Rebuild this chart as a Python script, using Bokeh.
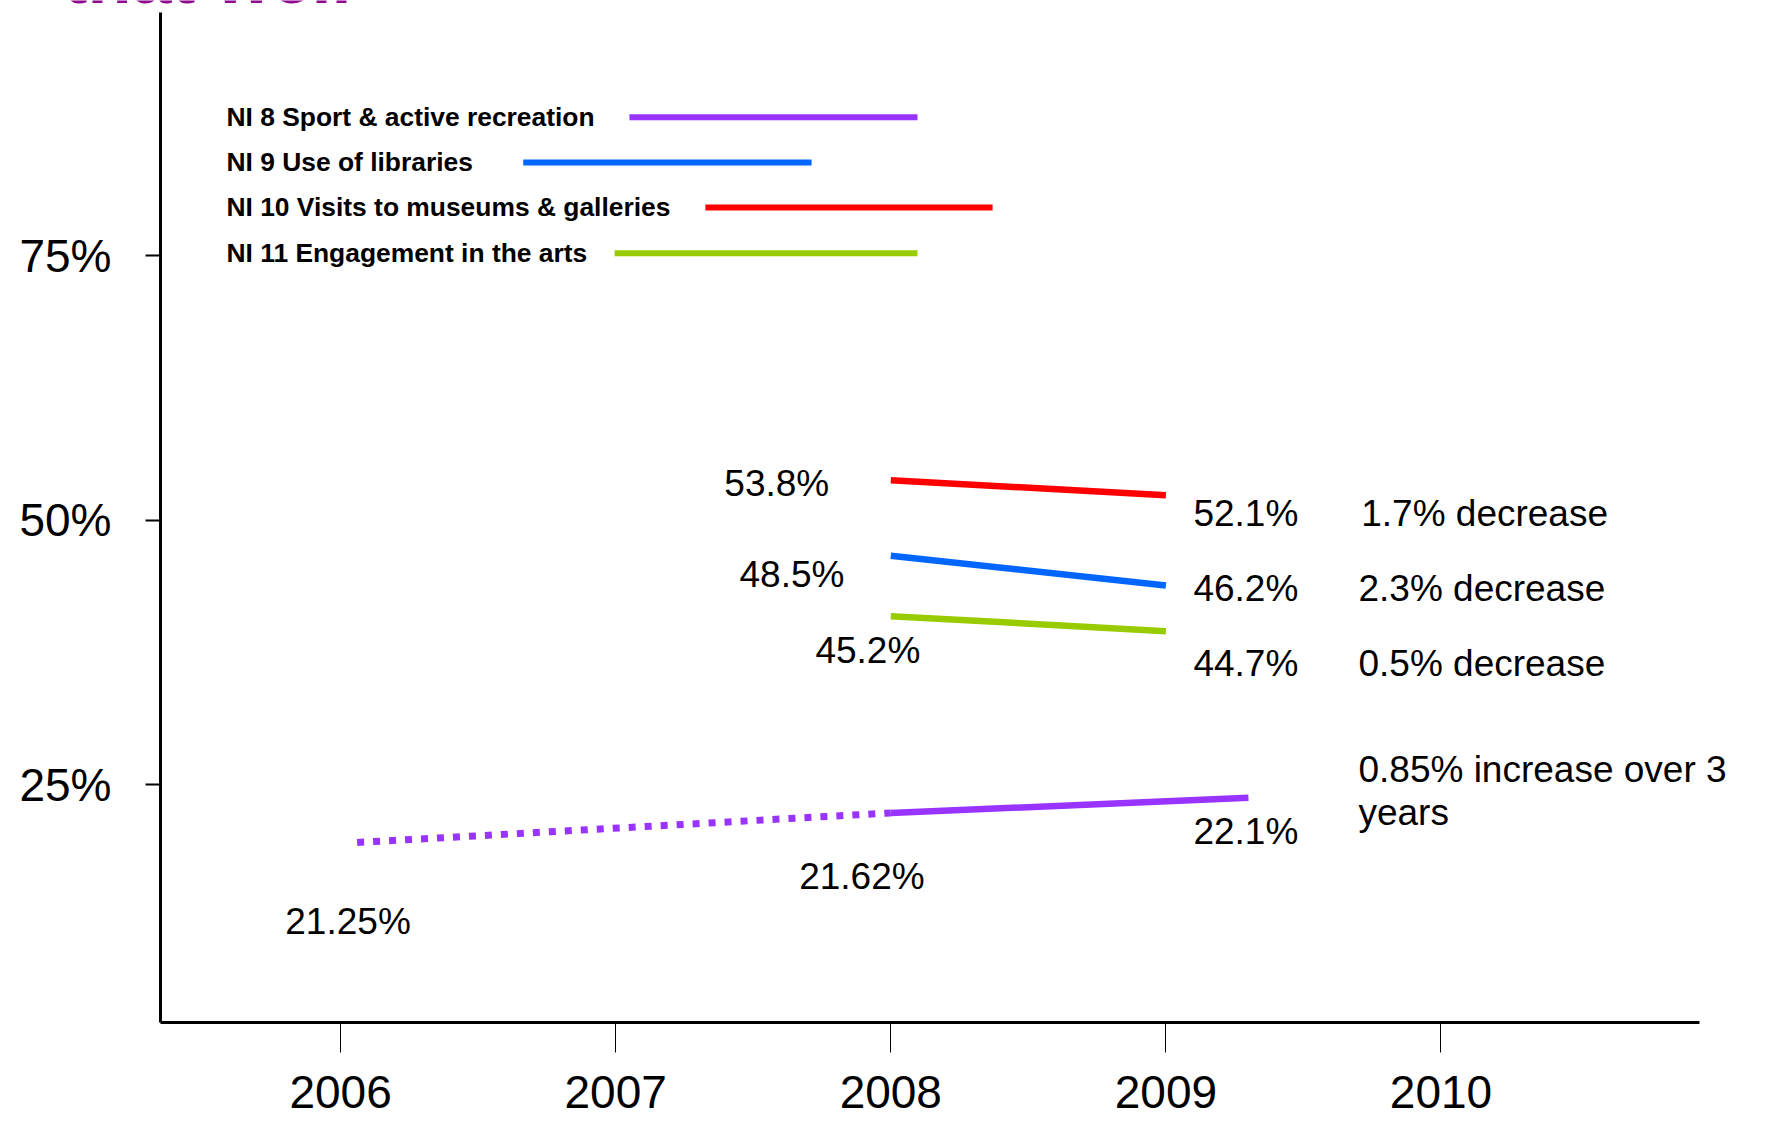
from bokeh.plotting import figure
from bokeh.models import Range1d, FixedTicker, ColumnDataSource, LabelSet
from bokeh.core.properties import value
from bokeh.embed import file_html
from bokeh.resources import INLINE

FONT = "Liberation Sans"

# ---- data (plotted positions) ----
year_ticks = [2006, 2007, 2008, 2009, 2010]
pct_ticks = [25, 50, 75]

main_years = [2008, 2009]
museums = [53.79, 52.37]      # NI 10
libraries = [46.64, 43.84]    # NI 9
arts = [40.94, 39.52]         # NI 11

sport_est_years = [2006.06, 2008]
sport_est = [19.55, 22.34]     # NI 8, dotted (estimated)
sport_years = [2008, 2009.30]
sport = [22.34, 23.77]         # NI 8, solid

series_names = ["NI 8 Sport & active recreation", "NI 9 Use of libraries",
                "NI 10 Visits to museums & galleries", "NI 11 Engagement in the arts"]
series_colors = ["#9933FF", "#0066FF", "#FF0000", "#99CC00"]

value_labels = ["53.8%", "48.5%", "45.2%", "52.1%", "46.2%", "44.7%",
                "22.1%", "21.62%", "21.25%"]
change_labels = ["1.7% decrease", "2.3% decrease", "0.5% decrease",
                 "0.85% increase over 3", "years"]
title_text = ["that well"]

# ---- axis extents and layout of legend / annotations (data units) ----
x_axis_span = (2005.3453, 2010.9397)
y_axis_span = (2.533, 97.996)

legend_text_x = [2005.585] * 4
legend_y = [88.1, 83.82, 79.57, 75.25]
legend_x0 = [2007.05, 2006.664, 2007.326, 2006.996]
legend_x1 = [2008.097, 2007.712, 2008.370, 2008.097]

value_label_x = [2007.395, 2007.45, 2007.726, 2009.10, 2009.10, 2009.10,
                 2009.10, 2007.667, 2005.799]
value_label_y = [53.48, 44.88, 37.69, 50.64, 43.55, 36.44, 20.60, 16.35, 12.10]
change_label_x = [2009.71, 2009.70, 2009.70, 2009.70, 2009.70]
change_label_y = [50.64, 43.55, 36.44, 26.40, 22.35]
title_x = [2004.993]
title_y = [98.94]

p = figure(width=1751, height=1124,
           x_range=Range1d(2004.7637, 2011.1287),
           y_range=Range1d(-7.107, 99.13),
           output_backend="svg", toolbar_location=None,
           min_border_left=0, min_border_right=0,
           min_border_top=0, min_border_bottom=0)
p.grid.visible = False
p.outline_line_color = None
p.background_fill_color = "white"
p.border_fill_color = "white"

# axes, drawn at the corner of the plotted area
xa = p.xaxis[0]
xa.fixed_location = y_axis_span[0]
xa.bounds = x_axis_span
xa.ticker = FixedTicker(ticks=year_ticks)
xa.major_label_overrides = {y: str(y) for y in year_ticks}
xa.axis_line_width = 3
xa.axis_line_color = "black"
xa.major_tick_out = 30
xa.major_tick_in = 0
xa.major_tick_line_width = 1
xa.minor_tick_line_color = None
xa.major_label_text_font = FONT
xa.major_label_text_font_size = "46px"
xa.major_label_text_color = "black"
xa.major_label_standoff = 23

ya = p.yaxis[0]
ya.fixed_location = x_axis_span[0]
ya.bounds = y_axis_span
ya.ticker = FixedTicker(ticks=pct_ticks)
ya.major_label_overrides = {v: f"{v}%" for v in pct_ticks}
ya.axis_line_width = 3
ya.axis_line_color = "black"
ya.major_tick_out = 15
ya.major_tick_in = 0
ya.major_tick_line_width = 2
ya.minor_tick_line_color = None
ya.major_label_text_font = FONT
ya.major_label_text_font_size = "46px"
ya.major_label_text_color = "black"
ya.major_label_standoff = 34

# data lines
p.line(main_years, museums, line_color=series_colors[2], line_width=6.5)
p.line(main_years, libraries, line_color=series_colors[1], line_width=6.5)
p.line(main_years, arts, line_color=series_colors[3], line_width=6.5)
p.line(sport_est_years, sport_est, line_color=series_colors[0], line_width=7,
       line_dash="7 9")
p.line(sport_years, sport, line_color=series_colors[0], line_width=6.5)

# manual legend
leg = ColumnDataSource(dict(x=legend_text_x, y=legend_y, t=series_names,
                            x0=legend_x0, x1=legend_x1, c=series_colors))
p.segment(x0="x0", y0="y", x1="x1", y1="y", line_color="c", line_width=6,
          source=leg)
p.text(x="x", y="y", text="t", source=leg, text_font=value(FONT),
       text_font_style="bold", text_font_size="26.4px", text_color="black",
       text_baseline="middle", text_align="left")

def labels(xs, ys, texts, size, align="left", baseline="middle",
           style="normal", color="black"):
    src = ColumnDataSource(dict(x=xs, y=ys, t=texts))
    p.add_layout(LabelSet(x="x", y="y", text="t", source=src,
                          text_font=value(FONT), text_font_size=value(size),
                          text_font_style=value(style),
                          text_color=value(color),
                          text_baseline=value(baseline),
                          text_align=value(align)))

labels(value_label_x, value_label_y, value_labels, "37px")
labels(change_label_x, change_label_y, change_labels, "37px")
labels(title_x, title_y, title_text, "72px", baseline="alphabetic",
       style="bold", color="#8E0A8E")

open("out.html", "w").write(file_html(p, INLINE))
